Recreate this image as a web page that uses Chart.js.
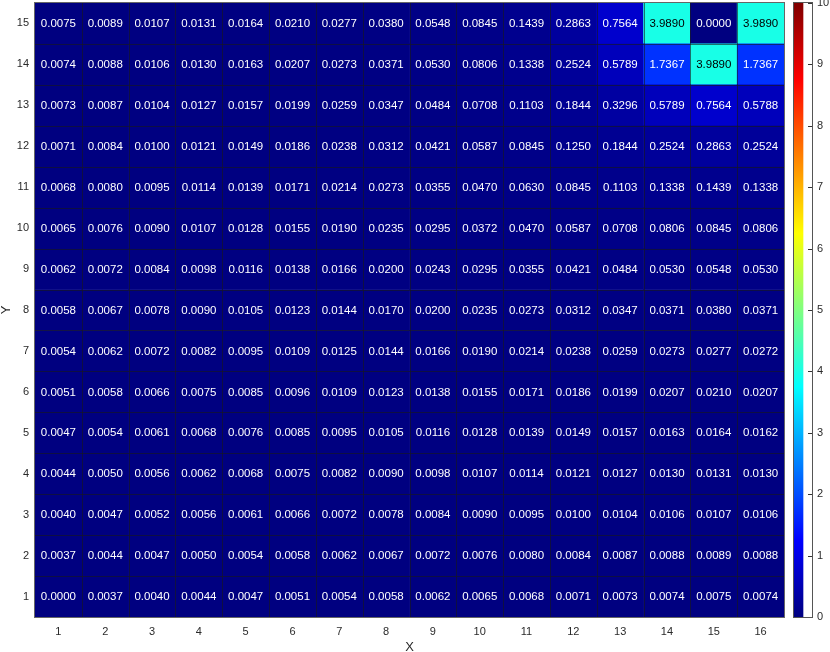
<!DOCTYPE html>
<html>
<head>
<meta charset="utf-8">
<script src="https://cdn.jsdelivr.net/npm/chart.js@4.4.1/dist/chart.umd.min.js"></script>
<style>
  html, body { margin: 0; padding: 0; background: #fff; }
  #wrap { position: relative; width: 830px; height: 652px; }
  #heat { position: absolute; left: 0; top: 0; }
  #cbar { position: absolute; left: 780px; top: 0; }
</style>
</head>
<body>
<div id="wrap">
  <canvas id="heat" width="830" height="652"></canvas>
  <canvas id="cbar" width="50" height="652"></canvas>
</div>
<script>
(function () {
  'use strict';

  var X_LABELS = ['1', '2', '3', '4', '5', '6', '7', '8', '9', '10', '11', '12', '13', '14', '15', '16'];
  var Y_VALUES = [1, 2, 3, 4, 5, 6, 7, 8, 9, 10, 11, 12, 13, 14, 15];

  var row1 = [0.0000, 0.0037, 0.0040, 0.0044, 0.0047, 0.0051, 0.0054, 0.0058, 0.0062, 0.0065, 0.0068, 0.0071, 0.0073, 0.0074, 0.0075, 0.0074];
  var row2 = [0.0037, 0.0044, 0.0047, 0.0050, 0.0054, 0.0058, 0.0062, 0.0067, 0.0072, 0.0076, 0.0080, 0.0084, 0.0087, 0.0088, 0.0089, 0.0088];
  var row3 = [0.0040, 0.0047, 0.0052, 0.0056, 0.0061, 0.0066, 0.0072, 0.0078, 0.0084, 0.0090, 0.0095, 0.0100, 0.0104, 0.0106, 0.0107, 0.0106];
  var row4 = [0.0044, 0.0050, 0.0056, 0.0062, 0.0068, 0.0075, 0.0082, 0.0090, 0.0098, 0.0107, 0.0114, 0.0121, 0.0127, 0.0130, 0.0131, 0.0130];
  var row5 = [0.0047, 0.0054, 0.0061, 0.0068, 0.0076, 0.0085, 0.0095, 0.0105, 0.0116, 0.0128, 0.0139, 0.0149, 0.0157, 0.0163, 0.0164, 0.0162];
  var row6 = [0.0051, 0.0058, 0.0066, 0.0075, 0.0085, 0.0096, 0.0109, 0.0123, 0.0138, 0.0155, 0.0171, 0.0186, 0.0199, 0.0207, 0.0210, 0.0207];
  var row7 = [0.0054, 0.0062, 0.0072, 0.0082, 0.0095, 0.0109, 0.0125, 0.0144, 0.0166, 0.0190, 0.0214, 0.0238, 0.0259, 0.0273, 0.0277, 0.0272];
  var row8 = [0.0058, 0.0067, 0.0078, 0.0090, 0.0105, 0.0123, 0.0144, 0.0170, 0.0200, 0.0235, 0.0273, 0.0312, 0.0347, 0.0371, 0.0380, 0.0371];
  var row9 = [0.0062, 0.0072, 0.0084, 0.0098, 0.0116, 0.0138, 0.0166, 0.0200, 0.0243, 0.0295, 0.0355, 0.0421, 0.0484, 0.0530, 0.0548, 0.0530];
  var row10 = [0.0065, 0.0076, 0.0090, 0.0107, 0.0128, 0.0155, 0.0190, 0.0235, 0.0295, 0.0372, 0.0470, 0.0587, 0.0708, 0.0806, 0.0845, 0.0806];
  var row11 = [0.0068, 0.0080, 0.0095, 0.0114, 0.0139, 0.0171, 0.0214, 0.0273, 0.0355, 0.0470, 0.0630, 0.0845, 0.1103, 0.1338, 0.1439, 0.1338];
  var row12 = [0.0071, 0.0084, 0.0100, 0.0121, 0.0149, 0.0186, 0.0238, 0.0312, 0.0421, 0.0587, 0.0845, 0.1250, 0.1844, 0.2524, 0.2863, 0.2524];
  var row13 = [0.0073, 0.0087, 0.0104, 0.0127, 0.0157, 0.0199, 0.0259, 0.0347, 0.0484, 0.0708, 0.1103, 0.1844, 0.3296, 0.5789, 0.7564, 0.5788];
  var row14 = [0.0074, 0.0088, 0.0106, 0.0130, 0.0163, 0.0207, 0.0273, 0.0371, 0.0530, 0.0806, 0.1338, 0.2524, 0.5789, 1.7367, 3.9890, 1.7367];
  var row15 = [0.0075, 0.0089, 0.0107, 0.0131, 0.0164, 0.0210, 0.0277, 0.0380, 0.0548, 0.0845, 0.1439, 0.2863, 0.7564, 3.9890, 0.0000, 3.9890];
  var ROWS = [row1, row2, row3, row4, row5, row6, row7, row8, row9, row10, row11, row12, row13, row14, row15];

  var CBAR_MIN = 0;
  var CBAR_MAX = 10;
  var CBAR_TICKS = [0, 1, 2, 3, 4, 5, 6, 7, 8, 9, 10];

  var FONT = "'Liberation Sans', Arial, sans-serif";
  var TEXT = '#2a2a2a';

  function clamp01(v) { return v < 0 ? 0 : (v > 1 ? 1 : v); }

  function jetRgb(t) {
    t = clamp01(t);
    return [
      Math.round(255 * clamp01(1.5 - Math.abs(4 * t - 3))),
      Math.round(255 * clamp01(1.5 - Math.abs(4 * t - 2))),
      Math.round(255 * clamp01(1.5 - Math.abs(4 * t - 1)))
    ];
  }

  function colorFor(v) {
    var c = jetRgb((v - CBAR_MIN) / (CBAR_MAX - CBAR_MIN));
    return 'rgb(' + c[0] + ',' + c[1] + ',' + c[2] + ')';
  }

  function textColorFor(v) {
    var c = jetRgb((v - CBAR_MIN) / (CBAR_MAX - CBAR_MIN));
    var lum = 0.299 * c[0] + 0.587 * c[1] + 0.114 * c[2];
    return lum > 128 ? '#000' : '#fff';
  }

  // kill the extra room chart.js keeps for half of the end tick labels
  function noScalePad(s) {
    s.paddingTop = 0;
    s.paddingBottom = 0;
    s.paddingLeft = 0;
    s.paddingRight = 0;
  }

  var datasets = ROWS.map(function (row, r) {
    var y = Y_VALUES[r];
    return {
      label: 'Y' + y,
      data: row.map(function () { return [y - 0.5, y + 0.5]; }),
      values: row,
      backgroundColor: row.map(colorFor),
      borderWidth: 0,
      barPercentage: 1,
      categoryPercentage: 1,
      grouped: false
    };
  });

  var cellLabels = {
    id: 'cellLabels',
    afterDatasetsDraw: function (chart) {
      var ctx = chart.ctx;
      var a = chart.chartArea;
      var xs = chart.scales.x;
      var ys = chart.scales.y;
      ctx.save();

      // cell edges
      ctx.strokeStyle = 'rgba(25,25,25,0.6)';
      ctx.lineWidth = 1;
      ctx.beginPath();
      for (var i = 1; i < X_LABELS.length; i++) {
        var x = Math.round((xs.getPixelForValue(i - 1) + xs.getPixelForValue(i)) / 2) + 0.5;
        ctx.moveTo(x, a.top);
        ctx.lineTo(x, a.bottom);
      }
      for (var j = 0; j < Y_VALUES.length - 1; j++) {
        var y = Math.round(ys.getPixelForValue(Y_VALUES[j] + 0.5)) + 0.5;
        ctx.moveTo(a.left, y);
        ctx.lineTo(a.right, y);
      }
      ctx.stroke();

      ctx.font = '11.5px ' + FONT;
      ctx.textAlign = 'center';
      ctx.textBaseline = 'middle';
      chart.data.datasets.forEach(function (ds, di) {
        var meta = chart.getDatasetMeta(di);
        meta.data.forEach(function (el, k) {
          var v = ds.values[k];
          var p = el.getCenterPoint();
          ctx.fillStyle = textColorFor(v);
          ctx.fillText(v.toFixed(4), p.x, p.y + 0.5);
        });
      });

      ctx.strokeStyle = '#666';
      ctx.strokeRect(Math.round(a.left) - 0.5, Math.round(a.top) - 0.5, Math.round(a.right - a.left) + 1, Math.round(a.bottom - a.top) + 1);
      ctx.restore();
    }
  };

  new Chart(document.getElementById('heat'), {
    type: 'bar',
    data: { labels: X_LABELS, datasets: datasets },
    options: {
      responsive: false,
      animation: false,
      layout: { padding: { top: 3, right: 46, left: 0, bottom: 0 } },
      plugins: { legend: { display: false }, tooltip: { enabled: false } },
      scales: {
        x: {
          type: 'category',
          offset: true,
          grid: { display: false, drawTicks: false },
          border: { display: false },
          ticks: { color: TEXT, font: { size: 11, family: FONT }, padding: 8, maxRotation: 0 },
          title: { display: true, text: 'X', color: TEXT, font: { size: 13, family: FONT, lineHeight: 1 }, padding: { top: 0, bottom: -2 } },
          afterFit: function (s) { s.height = 35; noScalePad(s); }
        },
        y: {
          type: 'linear',
          min: 0.5,
          max: 15.5,
          grid: { display: false, drawTicks: false },
          border: { display: false },
          afterBuildTicks: function (s) { s.ticks = Y_VALUES.map(function (v) { return { value: v }; }); },
          ticks: { color: TEXT, font: { size: 11, family: FONT }, padding: 6 },
          title: { display: true, text: 'Y', color: TEXT, font: { size: 13, family: FONT, lineHeight: 1 }, padding: { top: 0, bottom: 0 } },
          afterFit: function (s) { s.width = 35; noScalePad(s); }
        }
      }
    },
    plugins: [cellLabels]
  });

  var cbarTicks = {
    id: 'cbarTicks',
    afterDatasetsDraw: function (chart) {
      var ctx = chart.ctx;
      var a = chart.chartArea;
      var sc = chart.scales.y;
      ctx.save();
      ctx.strokeStyle = '#333';
      ctx.lineWidth = 1;
      CBAR_TICKS.forEach(function (v) {
        var y = Math.round(sc.getPixelForValue(v)) + 0.5;
        ctx.beginPath();
        ctx.moveTo(a.right - 5, y);
        ctx.lineTo(a.right, y);
        ctx.stroke();
      });
      ctx.strokeStyle = '#555';
      ctx.strokeRect(Math.round(a.left) + 0.5, Math.round(a.top) - 0.5, Math.round(a.right - a.left) - 1, Math.round(a.bottom - a.top) + 1);
      ctx.restore();
    }
  };

  new Chart(document.getElementById('cbar'), {
    type: 'bar',
    data: {
      labels: [''],
      datasets: [{
        data: [[CBAR_MIN, CBAR_MAX]],
        backgroundColor: function (c) {
          var a = c.chart.chartArea;
          if (!a) return colorFor(CBAR_MIN);
          var g = c.chart.ctx.createLinearGradient(0, a.bottom, 0, a.top);
          for (var i = 0; i <= 40; i++) {
            g.addColorStop(i / 40, colorFor(CBAR_MIN + (CBAR_MAX - CBAR_MIN) * i / 40));
          }
          return g;
        },
        borderWidth: 0,
        barPercentage: 1,
        categoryPercentage: 1
      }]
    },
    options: {
      responsive: false,
      animation: false,
      layout: { padding: { top: 3, right: 0, left: 13, bottom: 35 } },
      plugins: { legend: { display: false }, tooltip: { enabled: false } },
      scales: {
        x: { display: false, offset: false },
        y: {
          position: 'right',
          min: CBAR_MIN,
          max: CBAR_MAX,
          grid: { display: false, drawTicks: false },
          border: { display: false },
          afterBuildTicks: function (s) { s.ticks = CBAR_TICKS.map(function (v) { return { value: v }; }); },
          ticks: { color: TEXT, font: { size: 11, family: FONT }, padding: 4 },
          afterFit: function (s) { s.width = 17; noScalePad(s); }
        }
      }
    },
    plugins: [cbarTicks]
  });
})();
</script>
</body>
</html>
